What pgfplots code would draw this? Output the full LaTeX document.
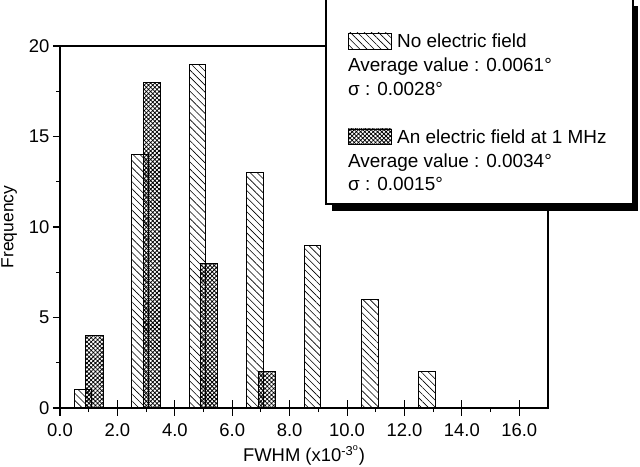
\documentclass[border=0pt]{standalone}
\usepackage{pgfplots}
\pgfplotsset{compat=1.18}
\usetikzlibrary{patterns.meta}
\usepackage{fontspec}
\setmainfont{Liberation Sans}

% Histogram of FWHM values with and without an applied electric field
\pgfplotstableread{
x   n
1   1
3   14
5   19
7   13
9   9
11  6
13  2
}\nofield
\pgfplotstableread{
x   n
1   4
3   18
5   8
7   2
}\withfield

\tikzset{
  hatchbar/.style={pattern={Lines[angle=-45,distance=5bp,line width=0.6bp]}},
  crossbar/.style={pattern={Hatch[angle=45,distance=3bp,line width=0.75bp]}},
}

\begin{document}
\begin{tikzpicture}
\useasboundingbox (0bp,0bp) rectangle (640bp,467bp);
\begin{axis}[
  at={(60bp,59bp)}, anchor=south west,
  scale only axis, width=488bp, height=362bp,
  xmin=0, xmax=17, ymin=0, ymax=20,
  xtick={0,2,...,16}, ytick={0,5,...,20},
  minor x tick num=1, minor y tick num=1,
  xtick pos=left, ytick pos=left,
  tick align=outside,
  major tick length=7bp, minor tick length=4bp,
  extra x ticks={0,2,...,16}, extra x tick labels={},
  extra x tick style={major tick length=15bp, tick align=center},
  axis line style={line width=1.1bp},
  tick style={line width=1.1bp, black},
  font=\fontsize{18.5}{22}\selectfont,
  /pgf/number format/assume math mode=true,
  xticklabel style={yshift=-5bp, /pgf/number format/.cd, fixed, fixed zerofill, precision=1},
  xlabel={FWHM (x10\textsuperscript{-3\textsuperscript{o}})},
  ylabel={Frequency},
  xlabel style={at={(axis description cs:0.5,-0.1475)}, anchor=base},
  ylabel style={at={(axis description cs:-0.0953,0.5)}, anchor=base, font=\fontsize{17.5}{20}\selectfont},
]
\addplot[ybar, bar width=0.58, bar shift=-0.21, draw=black, line width=0.9bp, hatchbar]
  table[x=x, y=n] {\nofield};
\addplot[ybar, bar width=0.6, bar shift=0.2, draw=black, line width=0.9bp, crossbar]
  table[x=x, y=n] {\withfield};
\end{axis}

% legend panel with drop shadow
\begin{scope}[x=1bp, y=1bp]
\fill[black] (332,256) rectangle (638,461);
\draw[fill=white, line width=1.4bp] (326,263) rectangle (633,468);
\begin{scope}[every node/.style={anchor=base west, inner sep=0pt, font=\fontsize{19}{22}\selectfont}]
  \draw[line width=0.8bp, hatchbar] (348,418) rectangle (391,434);
  \node at (397,419) {No electric field};
  \node at (348,395) {Average value : 0.0061°};
  \node at (348,372) {σ : 0.0028°};
  \draw[line width=0.8bp, crossbar] (348,323) rectangle (391,338);
  \node at (397,324) {An electric field at 1 MHz};
  \node at (348,300) {Average value : 0.0034°};
  \node at (348,277) {σ : 0.0015°};
\end{scope}
\end{scope}
\end{tikzpicture}
\end{document}
